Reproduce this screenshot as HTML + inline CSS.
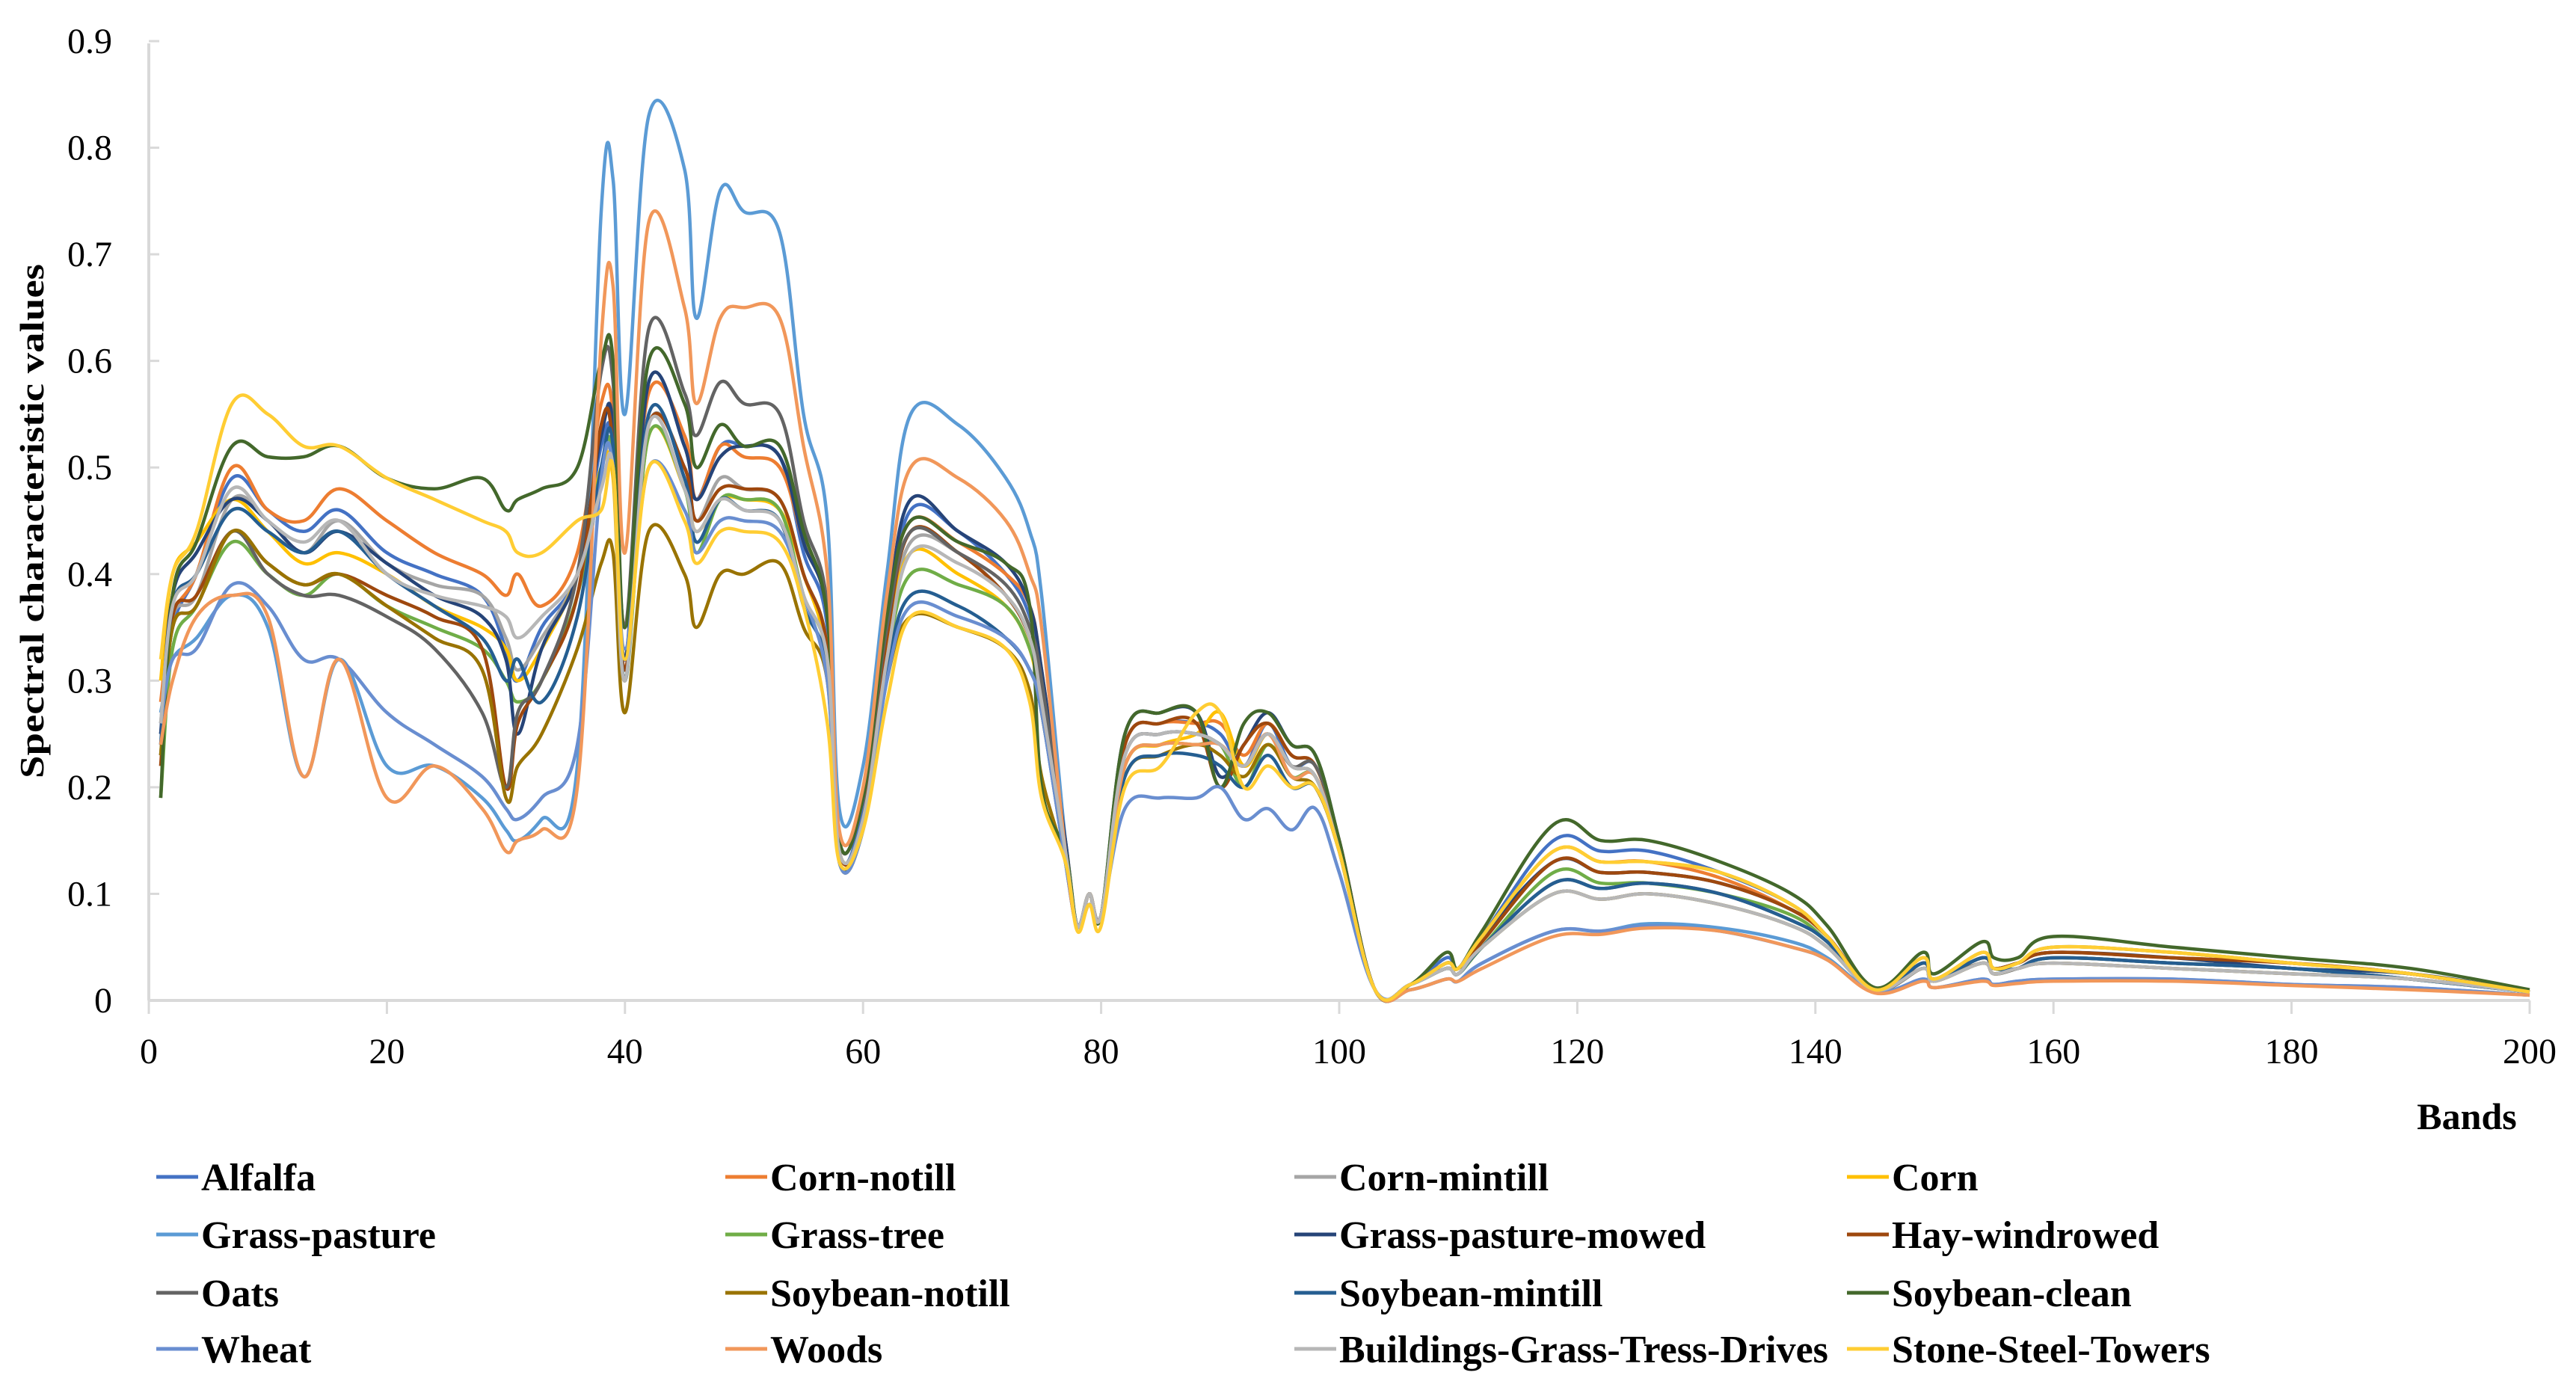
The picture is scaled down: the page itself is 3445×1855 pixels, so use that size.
<!DOCTYPE html>
<html><head><meta charset="utf-8"><style>
html,body{margin:0;padding:0;background:#fff;}
svg{display:block;font-family:"Liberation Serif",serif;}
</style></head><body>
<svg id="chart" width="3445" height="1855" viewBox="0 0 3445 1855" xmlns="http://www.w3.org/2000/svg">
<rect width="3445" height="1855" fill="#fff"/>
<g id="axes"></g>
<g id="series"></g>
<g id="legend"></g>
</svg>
<script>
const bands = [1,2,4,7,10,13,16,20,24,28, 30,31,33,36,38,39,40,42,45,46, 48,50,53,55,57,58,60,62,64,68, 72,74,75,77,78,79,80,82,85,88, 90,92,94,96,98,100,103,106,109,110, 112,118,122,126,132,138,141,145,149,150, 154,155,157,160,170,180,190,200];
const seriesNames = ["Alfalfa","Corn-notill","Corn-mintill","Corn","Grass-pasture","Grass-tree","Grass-pasture-mowed","Hay-windrowed","Oats","Soybean-notill","Soybean-mintill","Soybean-clean","Wheat","Woods","Buildings-Grass-Tress-Drives","Stone-Steel-Towers"];
const seriesColors = ["#4472C4","#ED7D31","#A5A5A5","#FFC000","#5B9BD5","#70AD47","#264478","#9E480E","#636363","#997300","#255E91","#43682B","#698ED0","#F1975A","#B7B7B7","#FFCD33"];
const alfalfa = [.25,.35,.40,.49,.46,.44,.46,.42,.40,.38, .33,.30,.35,.40,.52,.52,.32,.58,.52,.47, .52,.52,.51,.42,.35,.14,.18,.35,.46,.44, .40,.36,.30,.15,.07,.10,.08,.24,.26,.26, .25,.22,.26,.22,.22,.15,.01,.015,.04,.03, .06,.15,.14,.14,.12,.09,.06,.01,.04,.02, .045,.03,.035,.05,.045,.035,.025,.008];
const cornNotill = [.28,.36,.40,.50,.46,.45,.48,.45,.42,.40, .38,.40,.37,.42,.56,.55,.35,.57,.53,.47, .52,.51,.50,.43,.36,.15,.19,.36,.45,.43, .40,.37,.31,.15,.07,.10,.08,.24,.26,.26, .26,.23,.26,.23,.22,.15,.01,.015,.035,.03, .06,.14,.13,.13,.115,.085,.06,.01,.035,.02, .04,.03,.035,.045,.04,.035,.025,.008];
const cornMintill = [.26,.36,.38,.47,.45,.42,.45,.41,.39,.38, .34,.31,.34,.40,.50,.50,.30,.54,.50,.45, .49,.48,.47,.40,.33,.14,.17,.33,.43,.42, .38,.34,.29,.14,.07,.10,.08,.23,.25,.25, .24,.22,.25,.21,.21,.14,.01,.015,.03,.025, .05,.10,.095,.10,.09,.07,.05,.01,.03,.018, .035,.025,.03,.035,.03,.025,.02,.008];
const corn = [.30,.40,.43,.47,.44,.41,.42,.40,.37,.35, .33,.30,.33,.40,.50,.49,.30,.53,.48,.44, .47,.47,.46,.40,.32,.14,.17,.33,.42,.40, .37,.33,.27,.14,.07,.10,.08,.22,.24,.25, .27,.22,.25,.22,.21,.14,.01,.015,.035,.03, .06,.14,.13,.13,.12,.09,.06,.01,.04,.02, .045,.03,.035,.05,.045,.035,.025,.008];
const grassPasture = [.27,.32,.34,.38,.35,.21,.32,.22,.22,.19, .16,.15,.17,.22,.74,.77,.55,.83,.78,.64, .76,.74,.72,.55,.45,.18,.22,.40,.55,.54, .49,.44,.38,.15,.07,.10,.08,.23,.25,.25, .24,.22,.25,.22,.21,.14,.01,.01,.02,.018, .035,.065,.065,.072,.068,.055,.04,.008,.02,.012, .02,.015,.018,.02,.02,.015,.012,.005];
const grassTree = [.19,.33,.37,.43,.40,.38,.40,.37,.35,.33, .30,.28,.30,.38,.50,.51,.30,.53,.48,.42, .47,.47,.46,.38,.32,.14,.17,.32,.40,.39, .37,.33,.28,.14,.07,.10,.08,.22,.24,.24, .24,.20,.24,.21,.21,.14,.01,.015,.03,.025, .05,.12,.11,.11,.10,.08,.055,.01,.035,.02, .04,.03,.03,.04,.035,.03,.02,.008];
const grassMowed = [.25,.38,.42,.47,.45,.42,.44,.41,.38,.36, .32,.25,.33,.40,.53,.54,.32,.58,.52,.47, .51,.52,.51,.43,.36,.15,.19,.36,.47,.44, .41,.37,.31,.15,.07,.10,.08,.25,.27,.27, .21,.24,.27,.24,.23,.15,.01,.015,.035,.03, .06,.13,.12,.12,.11,.085,.06,.01,.035,.02, .04,.03,.035,.045,.04,.03,.025,.008];
const hayWindrowed = [.22,.36,.38,.44,.41,.39,.40,.38,.36,.33, .20,.26,.30,.38,.54,.52,.31,.54,.50,.45, .48,.48,.47,.40,.33,.14,.17,.34,.44,.42, .38,.34,.29,.14,.07,.10,.08,.24,.26,.26, .20,.24,.26,.23,.22,.15,.01,.015,.035,.03, .055,.13,.12,.12,.11,.085,.06,.01,.035,.02, .04,.03,.035,.045,.04,.035,.025,.008];
const oats = [.23,.35,.37,.44,.40,.38,.38,.36,.33,.27, .20,.27,.30,.40,.59,.58,.35,.63,.57,.53, .58,.56,.55,.45,.37,.15,.19,.35,.44,.42, .39,.35,.30,.14,.07,.10,.08,.23,.25,.25, .24,.22,.25,.22,.22,.15,.01,.015,.03,.025, .05,.11,.105,.11,.10,.075,.055,.01,.03,.02, .035,.025,.03,.04,.035,.03,.02,.008];
const soyNotill = [.23,.35,.37,.44,.41,.39,.40,.37,.34,.31, .19,.22,.25,.33,.41,.42,.27,.44,.40,.35, .40,.40,.41,.35,.30,.13,.16,.30,.36,.35, .33,.29,.21,.13,.07,.09,.08,.21,.23,.24, .23,.21,.24,.21,.20,.14,.01,.015,.03,.025, .05,.10,.095,.10,.09,.07,.05,.01,.03,.018, .035,.025,.03,.035,.03,.025,.02,.008];
const soyMintill = [.24,.37,.40,.46,.44,.42,.44,.40,.37,.34, .30,.32,.28,.36,.50,.52,.30,.55,.49,.43, .47,.46,.45,.37,.31,.13,.17,.31,.38,.37, .34,.31,.27,.13,.07,.10,.08,.21,.23,.23, .22,.20,.23,.20,.20,.14,.01,.015,.03,.025, .05,.11,.105,.11,.10,.075,.055,.01,.035,.02, .04,.03,.03,.04,.035,.03,.02,.008];
const soyClean = [.19,.38,.43,.52,.51,.51,.52,.49,.48,.49, .46,.47,.48,.50,.60,.60,.35,.60,.56,.50, .54,.52,.52,.44,.36,.15,.19,.36,.45,.43, .41,.37,.20,.14,.07,.10,.08,.25,.27,.27, .20,.26,.27,.24,.23,.15,.01,.015,.045,.03, .065,.165,.15,.15,.13,.10,.07,.012,.045,.025, .055,.04,.04,.06,.05,.04,.03,.01];
const wheat = [.26,.32,.33,.39,.37,.32,.32,.27,.24,.21, .18,.17,.19,.24,.49,.50,.33,.50,.46,.42, .45,.45,.44,.38,.30,.13,.16,.30,.37,.36, .34,.31,.27,.13,.07,.09,.08,.18,.19,.19, .20,.17,.18,.16,.18,.12,.01,.01,.02,.018, .035,.065,.065,.07,.065,.05,.038,.008,.02,.012, .02,.015,.018,.02,.02,.015,.012,.005];
const woods = [.24,.30,.36,.38,.36,.21,.32,.19,.22,.18, .14,.15,.16,.20,.62,.67,.42,.73,.65,.56, .64,.65,.64,.52,.40,.16,.20,.38,.50,.49, .45,.40,.35,.14,.07,.10,.08,.22,.24,.24, .24,.22,.25,.21,.21,.14,.01,.01,.02,.018, .03,.06,.062,.068,.065,.05,.038,.007,.018,.012, .018,.014,.016,.018,.018,.014,.01,.005];
const buildings = [.26,.37,.40,.48,.45,.43,.45,.40,.38,.37, .36,.34,.36,.40,.48,.50,.30,.54,.48,.44, .47,.46,.45,.38,.32,.14,.17,.32,.42,.41, .38,.34,.28,.14,.07,.10,.08,.23,.25,.25, .24,.22,.25,.22,.21,.14,.01,.015,.03,.025, .05,.10,.095,.10,.09,.07,.05,.01,.03,.018, .035,.025,.03,.035,.03,.025,.02,.008];
const stoneSteel = [.32,.40,.44,.56,.55,.52,.52,.49,.47,.45, .44,.42,.42,.45,.46,.50,.32,.50,.45,.41, .44,.44,.43,.37,.26,.13,.16,.28,.36,.35, .33,.28,.19,.13,.065,.09,.07,.20,.22,.27, .27,.20,.22,.20,.20,.14,.01,.015,.035,.03, .06,.14,.13,.13,.12,.09,.06,.01,.04,.02, .045,.03,.035,.05,.045,.035,.025,.008];
const seriesValues = [alfalfa,cornNotill,cornMintill,corn,grassPasture,grassTree,grassMowed,hayWindrowed,oats,soyNotill,soyMintill,soyClean,wheat,woods,buildings,stoneSteel];
const yTicks = ["0","0.1","0.2","0.3","0.4","0.5","0.6","0.7","0.8","0.9"];
const xTicks = ["0","20","40","60","80","100","120","140","160","180","200"];

const NS = "http://www.w3.org/2000/svg";
const X0 = 199, X1 = 3383, Y0 = 1338, Y1 = 55;
function xScale(b){ return X0 + (b/200)*(X1-X0); }
function yScale(v){ return Y0 - (v/0.9)*(Y0-Y1); }
function mk(tag, attrs, parent){ const e=document.createElementNS(NS,tag); for(const k in attrs) e.setAttribute(k,attrs[k]); parent.appendChild(e); return e; }

const axes = document.getElementById('axes');
const yAxis = mk('line',{x1:X0,y1:58,x2:X0,y2:Y0,stroke:'#d9d9d9','stroke-width':4},axes);


const xAxis = mk('line',{x1:X0,y1:Y0,x2:X1,y2:Y0,stroke:'#d9d9d9','stroke-width':4},axes);


yTicks.forEach(t=>{
  const y = yScale(parseFloat(t));
  const tk = mk('line',{x1:X0,y1:y,x2:X0+14,y2:y,stroke:'#d9d9d9','stroke-width':3},axes);
  
  
  const lb = mk('text',{x:150,y:y+16,'text-anchor':'end','font-size':48,fill:'#000'},axes);
  lb.textContent = t;
  
  
});
xTicks.forEach(t=>{
  const x = xScale(parseFloat(t));
  const tk = mk('line',{x1:x,y1:Y0,x2:x,y2:Y0+18,stroke:'#d9d9d9','stroke-width':3},axes);
  
  
  const lb = mk('text',{x:x,y:1422,'text-anchor':'middle','font-size':48,fill:'#000'},axes);
  lb.textContent = t;
  
  
});
const xt = mk('text',{x:3299,y:1510,'text-anchor':'middle','font-size':50,'font-weight':'bold',fill:'#000'},axes);
xt.textContent = 'Bands';


const yt = mk('text',{x:0,y:0,'text-anchor':'middle','font-size':46,'font-weight':'bold',fill:'#000',textLength:688,lengthAdjust:'spacingAndGlyphs',transform:'translate(58,697) rotate(-90)'},axes);
yt.textContent = 'Spectral characteristic values';



function smoothPath(pts){
  let d = 'M'+pts[0][0].toFixed(1)+','+pts[0][1].toFixed(1);
  for(let i=0;i<pts.length-1;i++){
    const p0=pts[Math.max(0,i-1)], p1=pts[i], p2=pts[i+1], p3=pts[Math.min(pts.length-1,i+2)];
    const t=0.18;
    const c1=[p1[0]+(p2[0]-p0[0])*t, p1[1]+(p2[1]-p0[1])*t];
    const c2=[p2[0]-(p3[0]-p1[0])*t, p2[1]-(p3[1]-p1[1])*t];
    d += ' C'+c1[0].toFixed(1)+','+c1[1].toFixed(1)+' '+c2[0].toFixed(1)+','+c2[1].toFixed(1)+' '+p2[0].toFixed(1)+','+p2[1].toFixed(1);
  }
  return d;
}
const sg = document.getElementById('series');
seriesValues.forEach((vals,i)=>{
  const pts = bands.map((b,j)=>[xScale(b), yScale(vals[j])]);
  const p = mk('path',{d:smoothPath(pts),fill:'none',stroke:seriesColors[i],'stroke-width':4.5,'stroke-linejoin':'round'},sg);
  
  
});

const lg = document.getElementById('legend');
const colX = [209,970,1731,2470];
const rowY = [1574,1651,1729,1804];
seriesNames.forEach((n,i)=>{
  const cx = colX[i%4], cy = rowY[Math.floor(i/4)];
  const g = mk('g',{},lg);
  
  
  mk('line',{x1:cx,y1:cy,x2:cx+56,y2:cy,stroke:seriesColors[i],'stroke-width':5},g);
  const t = mk('text',{x:cx+60,y:cy+18,'font-size':52,'font-weight':'bold',fill:'#000'},g);
  t.textContent = n;
});
</script>
</body></html>
